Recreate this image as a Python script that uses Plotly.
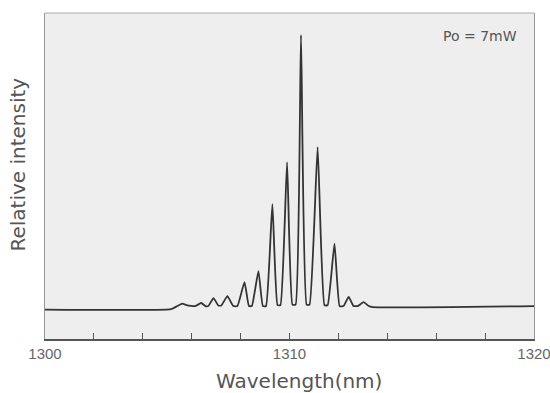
import plotly.graph_objects as go

# Spectrum trace vertices (wavelength nm, relative intensity)
wavelength = [1300.0, 1305.16, 1305.41, 1305.61, 1305.82, 1306.15, 1306.39, 1306.56, 1306.68,
              1306.89, 1307.09, 1307.21, 1307.46, 1307.70, 1307.87, 1308.16, 1308.34, 1308.46,
              1308.73, 1308.91, 1309.04, 1309.30, 1309.51, 1309.63, 1309.90, 1310.12, 1310.25,
              1310.47, 1310.70, 1310.82, 1311.15, 1311.43, 1311.56, 1311.84, 1312.05, 1312.21,
              1312.42, 1312.62, 1312.79, 1313.03, 1313.24, 1313.40, 1320.0]
intensity = [0.0, 0.002, 0.013, 0.022, 0.015, 0.013, 0.024, 0.013, 0.013,
             0.042, 0.015, 0.015, 0.049, 0.013, 0.013, 0.100, 0.013, 0.013,
             0.140, 0.013, 0.013, 0.384, 0.016, 0.016, 0.537, 0.018, 0.018,
             1.0, 0.018, 0.018, 0.592, 0.016, 0.016, 0.240, 0.013, 0.013,
             0.046, 0.013, 0.013, 0.027, 0.013, 0.009, 0.013]

tick_values = [1300, 1302, 1304, 1306, 1308, 1310, 1312, 1314, 1316, 1318, 1320]
tick_labels = ["1300", "", "", "", "", "1310", "", "", "", "", "1320"]

x_title = "Wavelength(nm)"
y_title = "Relative intensity"
power_label = "Po = 7mW"

fig = go.Figure()
fig.add_trace(go.Scatter(x=wavelength, y=intensity, mode="lines",
                         line=dict(color="#333333", width=1.8, shape="spline", smoothing=0.4),
                         showlegend=False, hoverinfo="skip"))

fig.update_layout(
    width=550, height=393,
    margin=dict(l=45, r=16, t=13, b=54),
    paper_bgcolor="white",
    plot_bgcolor="#eeeeee",
    xaxis=dict(range=[1300, 1320], tickvals=tick_values, ticktext=tick_labels,
               ticks="inside", ticklen=6, tickcolor="#555", tickwidth=1,
               ticklabeloverflow="allow", automargin=False,
               showgrid=False, zeroline=False, showline=True, linecolor="#555",
               linewidth=1.5, mirror=False,
               tickfont=dict(family="Liberation Sans, Arial, sans-serif", size=15, color="#666")),
    yaxis=dict(range=[-0.107, 1.080], showticklabels=False, ticks="",
               showgrid=False, zeroline=False, showline=True, linecolor="#999",
               linewidth=1, mirror=True, automargin=False),
    shapes=[dict(type="line", xref="paper", yref="paper", x0=0, x1=1, y0=1, y1=1,
                 line=dict(color="#aaa", width=1))],
    annotations=[
        dict(text=y_title, xref="paper", yref="paper", x=-0.056, y=0.534,
             textangle=-90, showarrow=False, xanchor="center", yanchor="middle",
             font=dict(family="DejaVu Sans, sans-serif", size=20, color="#555")),
        dict(text=x_title, xref="paper", yref="paper", x=0.519, y=-0.130,
             showarrow=False, xanchor="center", yanchor="middle",
             font=dict(family="DejaVu Sans, sans-serif", size=20, color="#555")),
        dict(text=power_label, xref="paper", yref="paper", x=0.890, y=0.929,
             showarrow=False, xanchor="center", yanchor="middle",
             font=dict(family="DejaVu Sans, sans-serif", size=14, color="#555")),
    ],
)

fig.write_html("out.html", config={"displayModeBar": False},
               post_script="document.body.style.margin='0';document.body.style.overflow='hidden';")
